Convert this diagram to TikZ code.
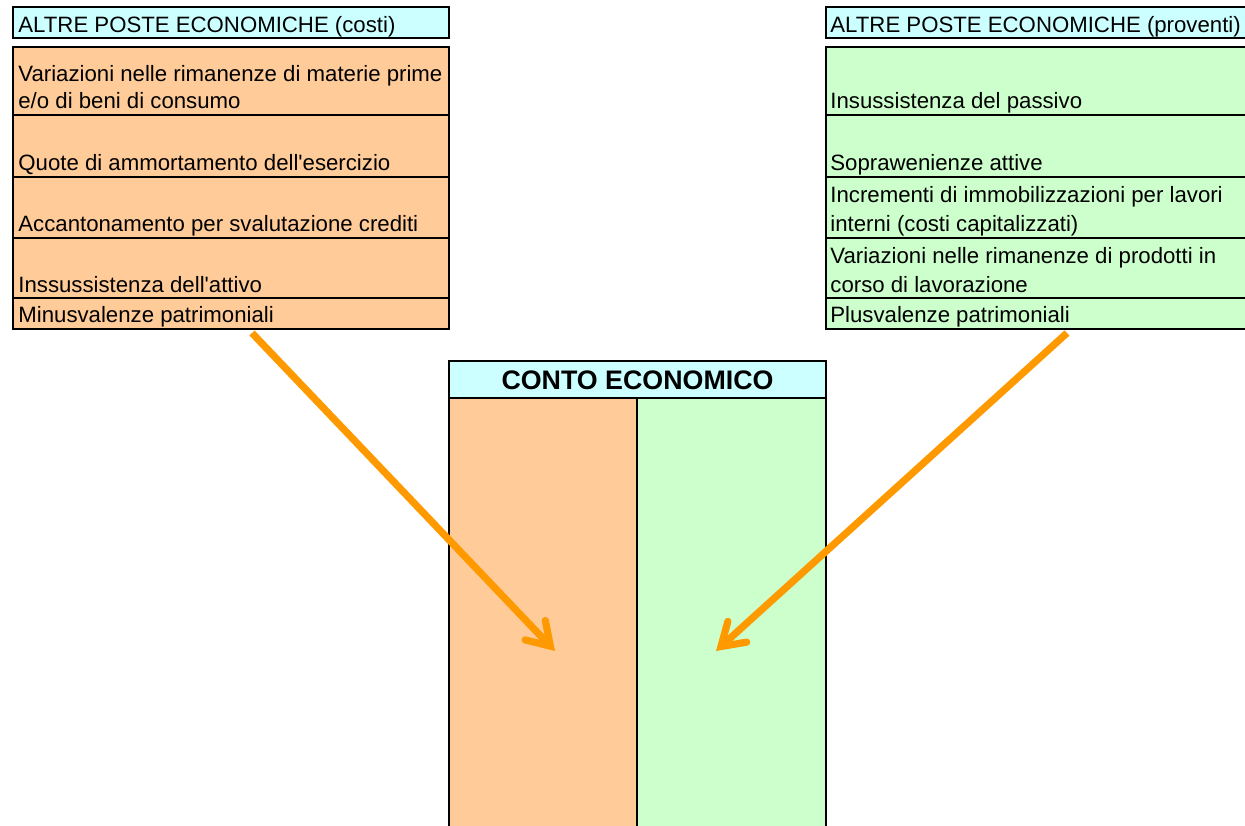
\documentclass[tikz,border=0pt]{standalone}
\usepackage{fontspec}
\setmainfont{Liberation Sans}
\usetikzlibrary{positioning}
\usetikzlibrary{arrows.meta}
\definecolor{costo}{HTML}{FFCC99}
\definecolor{ricavo}{HTML}{CCFFCC}
\definecolor{testata}{HTML}{CCFFFF}
\definecolor{arancio}{HTML}{FF9900}

\begin{document}
\begin{tikzpicture}[x=0.5pt, y=-0.5pt,
  cella/.style={draw, line width=1pt},
  voce/.style={anchor=base west, inner sep=0pt, font=\fontsize{11.1}{13}\selectfont},
  freccia/.style={draw=arancio, line width=3.6pt,
    -{Straight Barb[length=11pt, width=14pt, line cap=round]}}]
  \useasboundingbox (0,0) rectangle (1245,825);

  % costi (sinistra)
  \draw[cella, fill=testata] (13,7) rectangle (449,38);
  \node[voce] (costi) at (18,32) {ALTRE POSTE ECONOMICHE (costi)};
  \draw[cella, fill=costo] (13,47) rectangle (449,329);
  \foreach \y in {115,177,238,298} {
    \draw[line width=1pt] (13,\y) -- (449,\y);
  }
  \node[voce] (c1a) at (18,81) {Variazioni nelle rimanenze di materie prime};
  \node[voce] (c1b) at (18,108) {e/o di beni di consumo};
  \node[voce] (c2) at (18,170) {Quote di ammortamento dell\textquotesingle esercizio};
  \node[voce] (c3) at (18,231) {Accantonamento per svalutazione crediti};
  \node[voce] (c4) at (18,292) {Inssussistenza dell\textquotesingle attivo};
  \node[voce] (c5) at (18,322) {Minusvalenze patrimoniali};

  % proventi (destra)
  \draw[cella, fill=testata] (826,7) rectangle (1252,38);
  \node[voce] (proventi) at (830,32) {ALTRE POSTE ECONOMICHE (proventi)};
  \draw[cella, fill=ricavo] (826,47) rectangle (1252,329);
  \foreach \y in {115,177,238,298} {
    \draw[line width=1pt] (826,\y) -- (1252,\y);
  }
  \node[voce] (p1) at (830,108) {Insussistenza del passivo};
  \node[voce] (p2) at (830,170) {Soprawenienze attive};
  \node[voce] (p3a) at (830,202) {Incrementi di immobilizzazioni per lavori};
  \node[voce] (p3b) at (830,231) {interni (costi capitalizzati)};
  \node[voce] (p4a) at (830,263) {Variazioni nelle rimanenze di prodotti in};
  \node[voce] (p4b) at (830,292) {corso di lavorazione};
  \node[voce] (p5) at (830,322) {Plusvalenze patrimoniali};

  % conto economico
  \draw[cella, fill=testata] (449,361) rectangle (826,398);
  \node[anchor=base, inner sep=0pt, font=\fontsize{13.4}{15}\selectfont\bfseries] (conto) at (637.5,389) {CONTO ECONOMICO};
  \draw[cella, fill=costo] (449,398) rectangle (637,835);
  \draw[cella, fill=ricavo] (637,398) rectangle (826,835);

  % frecce
  \coordinate (costi-da) at (252,333);
  \coordinate (costi-a) at (555,651);
  \coordinate (proventi-da) at (1067,333);
  \coordinate (proventi-a) at (716,651);
  \draw[freccia] (costi-da) -- (costi-a);
  \draw[freccia] (proventi-da) -- (proventi-a);
\end{tikzpicture}
\end{document}
